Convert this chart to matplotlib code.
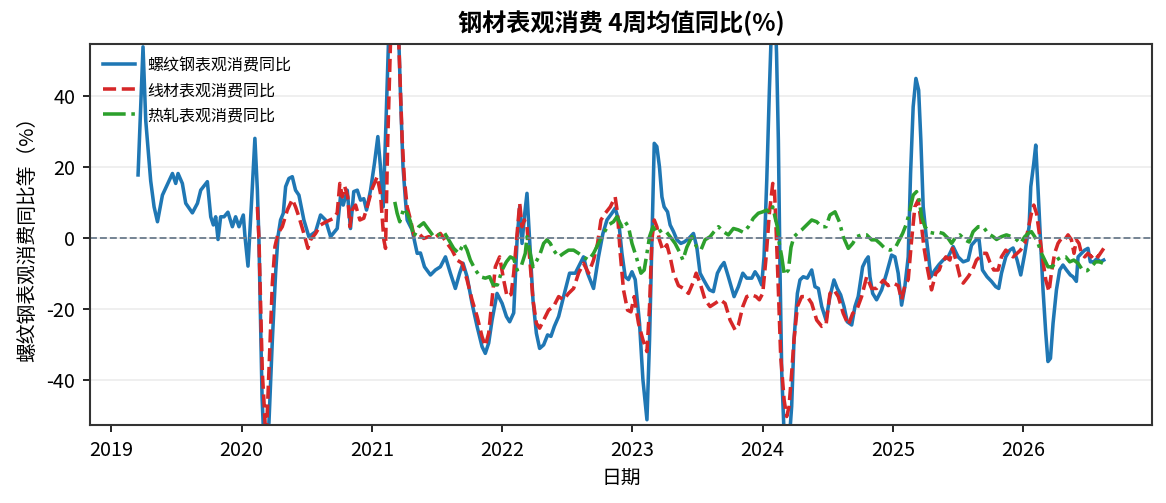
import numpy as np
import pandas as pd
import matplotlib
matplotlib.use('Agg')
import matplotlib.pyplot as plt
import matplotlib.dates as mdates

plt.rcParams['font.family'] = ['Noto Sans CJK SC', 'DejaVu Sans']
plt.rcParams['axes.unicode_minus'] = False

# x values are years elapsed since 2019-01-01, y values are YoY %
t_rebar = [0.204, 0.242, 0.263, 0.301, 0.327, 0.353, 0.391, 0.468, 0.493, 0.511,
           0.544, 0.570, 0.621, 0.660, 0.685, 0.736, 0.762, 0.782, 0.800, 0.818,
           0.838, 0.864, 0.894, 0.928, 0.953, 0.979, 1.012, 1.025, 1.048, 1.076,
           1.101, 1.120, 1.132, 1.156, 1.180, 1.209, 1.235, 1.260, 1.278, 1.298,
           1.319, 1.337, 1.362, 1.388, 1.413, 1.439, 1.477, 1.515, 1.567, 1.605,
           1.643, 1.682, 1.733, 1.758, 1.779, 1.810, 1.835, 1.860, 1.887, 1.912,
           1.937, 1.958, 1.989, 2.019, 2.045, 2.065, 2.086, 2.107, 2.129, 2.150,
           2.173, 2.196, 2.219, 2.238, 2.257, 2.270, 2.308, 2.347, 2.372, 2.403,
           2.449, 2.487, 2.525, 2.564, 2.602, 2.640, 2.673, 2.699, 2.730, 2.768,
           2.807, 2.845, 2.870, 2.896, 2.922, 2.960, 2.999, 3.032, 3.057, 3.088,
           3.114, 3.134, 3.152, 3.170, 3.190, 3.210, 3.236, 3.262, 3.287, 3.318,
           3.348, 3.374, 3.400, 3.433, 3.471, 3.517, 3.561, 3.586, 3.624, 3.655,
           3.701, 3.739, 3.773, 3.804, 3.842, 3.867, 3.893, 3.919, 3.944, 3.969,
           3.996, 4.021, 4.054, 4.080, 4.111, 4.131, 4.149, 4.167, 4.187, 4.207,
           4.226, 4.243, 4.269, 4.289, 4.315, 4.341, 4.371, 4.397, 4.430, 4.468,
           4.494, 4.519, 4.545, 4.571, 4.591, 4.621, 4.652, 4.678, 4.703, 4.736,
           4.780, 4.813, 4.847, 4.877, 4.916, 4.941, 4.966, 4.992, 5.010, 5.031,
           5.051, 5.072, 5.091, 5.106, 5.120, 5.133, 5.146, 5.171, 5.198, 5.222,
           5.240, 5.266, 5.286, 5.311, 5.342, 5.376, 5.401, 5.427, 5.453, 5.486,
           5.516, 5.547, 5.572, 5.598, 5.624, 5.649, 5.683, 5.708, 5.733, 5.767,
           5.792, 5.810, 5.823, 5.844, 5.874, 5.913, 5.951, 5.989, 6.015, 6.040,
           6.066, 6.091, 6.117, 6.135, 6.155, 6.176, 6.197, 6.214, 6.232, 6.258,
           6.291, 6.322, 6.355, 6.385, 6.424, 6.462, 6.500, 6.539, 6.577, 6.603,
           6.641, 6.661, 6.687, 6.722, 6.756, 6.789, 6.812, 6.833, 6.866, 6.897,
           6.922, 6.953, 6.981, 7.012, 7.045, 7.058, 7.081, 7.096, 7.114, 7.135,
           7.152, 7.173, 7.190, 7.209, 7.229, 7.255, 7.280, 7.305, 7.332, 7.362,
           7.382, 7.408, 7.421, 7.447, 7.472, 7.497, 7.515, 7.541, 7.566, 7.592,
           7.618]
rebar = [17.7, 53.8, 33, 16, 8.7, 4.5, 12, 18.1, 15.3, 18.1,
         15.3, 9.7, 7, 9.7, 13.4, 15.8, 5.9, 3.6, 5.9, -0.5,
         5.9, 5.9, 7.2, 3.1, 5.9, 3.1, 6.4, 0.3, -8, 10.6,
         28, 13.4, -0.6, -45, -66, -52, -28.8, -10, 0.3, 5,
         6.9, 14.4, 16.7, 17.2, 13.4, 12, 5, 0.3, 1.7, 6.4,
         5, 0.3, 2.6, 11.5, 9.2, 13.4, 2.6, 13, 13.4, 10.6,
         11, 7.8, 13.4, 21, 28.5, 20, 8.7, 32, 58, 75,
         80, 68, 40, 20, 10.6, 5, 2.2, -4.4, -4.3, -8.2,
         -10.5, -9.1, -8.2, -5.4, -10, -14.3, -10, -7.2, -11, -18.5,
         -25, -30.7, -32.6, -29.7, -23.2, -15.7, -18.5, -22.2, -23.7, -21.2,
         -0.6, 8.7, -1.6, 5.9, 12.5, -0.6, -17.5, -26.9, -31.2, -30.2,
         -27.4, -27.8, -25, -22.2, -16.6, -10, -10, -8.2, -5.4, -10,
         -14.3, -5.4, 1.2, 5, 6.9, 8.3, 5, -4.4, -11, -11.8,
         -9.6, -11.8, -24.1, -40, -51.3, -28.8, -0.6, 26.6, 25.7, 20,
         11.5, 8.7, 7.3, 3.6, 1.7, -0.6, -1.6, -1.2, -0.3, 1.2,
         -2.7, -10, -11.8, -13.5, -14.7, -15.2, -10, -8.2, -7, -11,
         -16.6, -13.8, -10, -11.4, -11.4, -9.6, -11, -13.3, -5.4, 16.3,
         41.6, 65, 68, 52, 27.5, -10, -38.2, -62, -60, -47.6,
         -28.8, -15.7, -11.9, -11, -11.4, -9.1, -13.8, -14.3, -19.4, -23.2,
         -16.6, -11.9, -14.3, -16.1, -19.4, -23.7, -24.6, -19.4, -16.6, -8.2,
         -6.3, -5.4, -11, -15.7, -17.5, -14.7, -10, -4.9, -5.4, -10,
         -19, -13.8, -5.4, 18.1, 36.9, 44.9, 41.6, 27.5, 8.7, -0.6,
         -11, -9.1, -7.5, -6.3, -5.4, -2.5, -5.4, -6.8, -6.3, -2.1,
         -0.5, -0.6, -9.1, -11, -12.3, -13.8, -14.3, -10, -5.4, -3.5,
         -2.9, -6.3, -10.5, -4.4, 3.1, 14.4, 21, 26.1, 13.4, -2.5,
         -14.7, -26.9, -34.9, -34, -24.1, -14.7, -9.1, -7.7, -9.1, -10.5,
         -11, -12.3, -5.4, -4.4, -3.5, -3, -6.8, -6.8, -5.9, -6.8,
         -6.3]

t_wire = [1.120, 1.132, 1.145, 1.158, 1.170, 1.187, 1.218, 1.235, 1.255, 1.278,
          1.311, 1.350, 1.388, 1.413, 1.439, 1.477, 1.508, 1.528, 1.567, 1.605,
          1.643, 1.707, 1.733, 1.753, 1.772, 1.791, 1.814, 1.830, 1.848, 1.874,
          1.907, 1.937, 1.963, 2.002, 2.040, 2.065, 2.091, 2.104, 2.121, 2.142,
          2.161, 2.180, 2.199, 2.219, 2.232, 2.249, 2.270, 2.296, 2.321, 2.359,
          2.397, 2.436, 2.474, 2.525, 2.577, 2.615, 2.653, 2.692, 2.730, 2.768,
          2.807, 2.845, 2.870, 2.896, 2.922, 2.947, 2.980, 3.011, 3.037, 3.068,
          3.088, 3.114, 3.134, 3.152, 3.170, 3.190, 3.210, 3.236, 3.262, 3.287,
          3.318, 3.356, 3.394, 3.433, 3.471, 3.509, 3.548, 3.586, 3.624, 3.663,
          3.701, 3.732, 3.758, 3.791, 3.830, 3.867, 3.885, 3.906, 3.931, 3.962,
          3.988, 4.013, 4.046, 4.080, 4.111, 4.131, 4.149, 4.167, 4.187, 4.207,
          4.233, 4.264, 4.289, 4.315, 4.353, 4.391, 4.430, 4.463, 4.489, 4.519,
          4.557, 4.596, 4.634, 4.673, 4.711, 4.749, 4.788, 4.813, 4.847, 4.877,
          4.916, 4.949, 4.974, 5.000, 5.026, 5.051, 5.077, 5.089, 5.102, 5.120,
          5.138, 5.164, 5.184, 5.202, 5.222, 5.240, 5.266, 5.299, 5.342, 5.376,
          5.414, 5.453, 5.486, 5.516, 5.547, 5.580, 5.618, 5.657, 5.691, 5.721,
          5.759, 5.798, 5.836, 5.874, 5.925, 5.963, 6.002, 6.040, 6.066, 6.091,
          6.117, 6.143, 6.168, 6.193, 6.214, 6.237, 6.262, 6.296, 6.329, 6.355,
          6.373, 6.406, 6.437, 6.457, 6.483, 6.514, 6.539, 6.577, 6.611, 6.641,
          6.667, 6.692, 6.718, 6.743, 6.774, 6.807, 6.833, 6.866, 6.897, 6.922,
          6.953, 6.979, 7.012, 7.037, 7.063, 7.081, 7.102, 7.127, 7.147, 7.173,
          7.198, 7.216, 7.241, 7.267, 7.293, 7.318, 7.344, 7.370, 7.390, 7.408,
          7.428, 7.447, 7.472, 7.497, 7.523, 7.549, 7.574, 7.592, 7.618]
wire = [8.7, 0, -19.4, -38, -45.7, -58, -28.8, -12.8, -2.5, 1.2,
        3.1, 7.8, 10.8, 8.7, 5.9, 1.2, -3, -0.6, 1.2, 3.6,
        4.4, 5.5, 7, 15.3, 11.5, 14.4, 11.5, 3.1, 7.8, 9.2,
        5, 5.5, 8.7, 13.9, 17.2, 12.5, -0.6, -3, 27.5, 55,
        68, 70, 62, 41.6, 27.5, 16.3, 8.7, 5, 0.8, 1.2,
        -0.2, 0.3, -0.2, 1.2, -1.6, -3.5, -6.3, -7.2, -11.9, -17.5,
        -22.2, -27.9, -30.5, -26.9, -17.5, -8.2, -5.4, -11.9, -16.6, -16,
        -10, 1.2, 9.7, 3.1, 5, 3.1, -5.4, -17.5, -24.1, -25.5,
        -23.2, -20.4, -19.4, -16.6, -17.5, -15.7, -14.3, -10, -7.2, -10,
        -6.3, -1.6, 5, 6.9, 8.7, 11.5, 6.9, -4.4, -14.7, -20.4,
        -20.9, -16.6, -24.1, -28.8, -32.1, -19.4, -0.6, 5, 3.1, -0.6,
        -3.5, -2, -5.4, -10, -13.5, -14.3, -15.7, -12.8, -10, -12.8,
        -17.5, -19.4, -18.5, -17.5, -18.5, -23.2, -26, -24.6, -19.4, -16.6,
        -16.1, -16.6, -17.5, -15.7, -5.4, 6.9, 15.3, 14.4, 3.1, -14.7,
        -33.5, -45.7, -50.4, -47.6, -38.2, -28.8, -19.4, -16.6, -16.6, -18.5,
        -23.2, -25, -24.6, -15.7, -14.7, -16.6, -21.3, -24.6, -21.3, -20.4,
        -16.6, -11, -14.3, -14.3, -12, -13.5, -12.8, -13.5, -17.5, -13.5,
        -11.8, -0.6, 8.7, 10.6, 5, -2.5, -8.2, -14.7, -10, -9.1,
        -7.2, -5.4, -6.3, -3, -6.3, -11, -12.8, -11, -9.1, -6.3,
        -5.4, -4.4, -4.4, -6.8, -9.1, -9.1, -5.4, -3.5, -4.4, -5.4,
        -4.4, -3.5, -1.6, 2.2, 6.9, 9.2, 6.9, 0.3, -5.4, -11.9,
        -15.2, -10, -4.4, -1.6, -0.2, -0.6, 0.8, -0.6, -4.4, -0.6,
        -1.6, -4.4, -5.4, -4.4, -5.4, -4.4, -5.4, -4.4, -3]

t_hrc = [2.175, 2.193, 2.213, 2.244, 2.270, 2.296, 2.321, 2.359, 2.397, 2.436,
         2.474, 2.512, 2.551, 2.589, 2.627, 2.666, 2.704, 2.730, 2.755, 2.794,
         2.832, 2.870, 2.903, 2.930, 2.963, 2.999, 3.032, 3.062, 3.088, 3.114,
         3.144, 3.177, 3.190, 3.210, 3.236, 3.267, 3.292, 3.318, 3.344, 3.369,
         3.394, 3.433, 3.471, 3.509, 3.548, 3.586, 3.624, 3.663, 3.701, 3.739,
         3.778, 3.816, 3.854, 3.880, 3.919, 3.944, 3.969, 3.996, 4.029, 4.065,
         4.090, 4.111, 4.131, 4.157, 4.187, 4.226, 4.259, 4.289, 4.327, 4.366,
         4.387, 4.417, 4.456, 4.494, 4.525, 4.557, 4.596, 4.626, 4.660, 4.698,
         4.736, 4.775, 4.813, 4.851, 4.890, 4.928, 4.966, 5.000, 5.031, 5.056,
         5.077, 5.094, 5.112, 5.127, 5.146, 5.166, 5.197, 5.217, 5.240, 5.266,
         5.299, 5.338, 5.376, 5.414, 5.453, 5.486, 5.516, 5.555, 5.588, 5.618,
         5.657, 5.691, 5.721, 5.759, 5.798, 5.836, 5.869, 5.900, 5.938, 5.976,
         6.015, 6.040, 6.074, 6.104, 6.130, 6.155, 6.181, 6.201, 6.220, 6.245,
         6.283, 6.322, 6.355, 6.385, 6.424, 6.450, 6.475, 6.514, 6.552, 6.585,
         6.615, 6.654, 6.692, 6.730, 6.769, 6.795, 6.833, 6.871, 6.910, 6.948,
         6.979, 7.012, 7.037, 7.063, 7.088, 7.114, 7.140, 7.165, 7.190, 7.224,
         7.255, 7.293, 7.326, 7.357, 7.388, 7.421, 7.455, 7.490, 7.523, 7.556,
         7.587, 7.612]
hrc = [10.1, 6.9, 4.5, 8.3, 6.9, 4.5, 0.3, 3.1, 4.2, 2.2,
       0.3, 0.8, 1.7, -0.6, -3, -4.4, -1.6, -3.5, -6.3, -9.1,
       -11, -11.4, -11, -13.3, -13.3, -9.1, -6.8, -5.4, -5.9, -9.1,
       -8.2, -4.4, 0.3, -3.5, -8.2, -6.3, -4.4, -1.6, -0.6, -1.6,
       -3.5, -5.4, -4.4, -3.5, -3.5, -4.4, -5.4, -6.3, -4.4, -1.6,
       1.2, 3.6, 4.5, 5.9, 3.1, 4.5, 3.1, -1.6, -5.4, -10,
       -9.1, -4.4, 0.3, 3.1, 1.2, 2.2, 1.7, 0.3, -1.6, -4.4,
       -6.3, -2.7, 0.3, -2.7, -3.5, -0.6, 0.3, 1.7, 3.1, 1.7,
       0.8, 2.6, 2.2, 1.5, 3.1, 5.5, 6.9, 7.3, 7.8, 6.9,
       8.7, 5.9, 3.1, -1.6, -5.4, -10.5, -9.1, -2.7, 0.3, 1.2,
       2.2, 3.6, 5, 4.5, 3.1, 3.1, 6.4, 7.3, 4.5, 0.3,
       -3, -1.6, 0.3, 0.8, 0.8, -0.6, -0.6, -1.6, -3, -3.5,
       -3, -1.2, 1.2, 4, 7.8, 12, 13, 10.6, 5.9, 3.1,
       1.5, 1.2, 1.5, 1.2, -0.2, -1.6, -0.2, 0.8, -0.6, -1.2,
       1.7, 3.1, 3.1, 1.2, 0.3, -0.5, 0.3, 0.8, 0.3, -0.5,
       -1.6, 0.3, 1.2, 1.7, 0.3, -1.6, -4.4, -6.3, -8.2, -8.2,
       -6.3, -5.4, -5.4, -6.8, -6.3, -7.2, -9.1, -9.3, -8.2, -6.8,
       -6.8, -7.2]


def to_dates(t):
    # years elapsed since 2019-01-01 -> timestamps
    return pd.Timestamp('2019-01-01') + pd.to_timedelta(np.array(t) * 365.25, unit='D')


fig, ax = plt.subplots(figsize=(1166 / 150, 503 / 150), dpi=150)
fig.subplots_adjust(left=0.077, right=0.988, top=0.9125, bottom=0.155)

ax.plot(to_dates(t_rebar), rebar, color='#1f77b4', lw=1.7, label='螺纹钢表观消费同比')
ax.plot(to_dates(t_wire), wire, color='#d62728', lw=1.7, ls='--', label='线材表观消费同比')
ax.plot(to_dates(t_hrc), hrc, color='#2ca02c', lw=1.7, ls='-.', label='热轧表观消费同比')
ax.axhline(0, color='#708090', ls='--', lw=0.9)

ax.set_ylim(-52.8, 54.6)
ax.grid(axis='y', color='#ececec', lw=0.8)
ax.set_axisbelow(True)
ax.xaxis.set_major_locator(mdates.YearLocator())
ax.xaxis.set_major_formatter(mdates.DateFormatter('%Y'))

ax.set_title('钢材表观消费 4周均值同比(%)', fontsize=11.6, fontweight='bold')
ax.set_xlabel('日期', fontsize=9.5)
ax.set_ylabel('螺纹钢表观消费同比等（%）', fontsize=9.5)
ax.tick_params(labelsize=9.5)
ax.legend(loc='upper left', frameon=False, fontsize=7.7, borderaxespad=0.4)
for s in ax.spines.values():
    s.set_color('#333333')
    s.set_linewidth(1.0)

fig.savefig('out.png', dpi=150)
